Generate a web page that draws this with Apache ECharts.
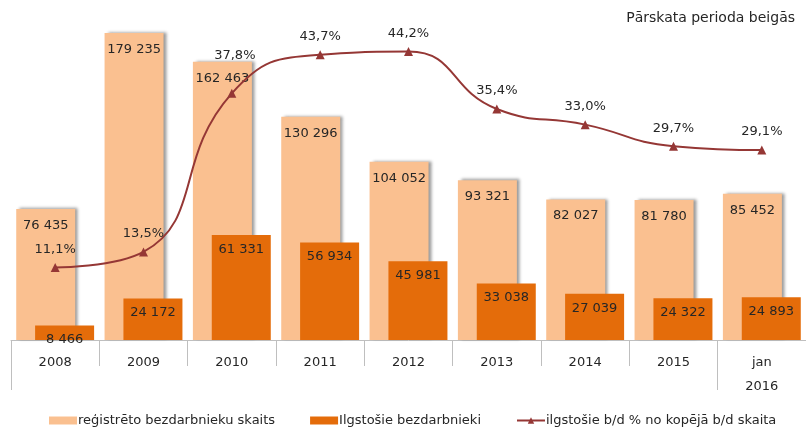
<!DOCTYPE html>
<html>
<head>
<meta charset="utf-8">
<script src="https://cdn.jsdelivr.net/npm/echarts@6/dist/echarts.min.js"></script>
<style>html,body{margin:0;padding:0;background:#fff}#c{width:806px;height:436px}</style>
</head>
<body>
<div id="c"></div>
<script>
var categories = ['2008','2009','2010','2011','2012','2013','2014','2015','jan\n2016'];
var registered = [76435, 179235, 162463, 130296, 104052, 93321, 82027, 81780, 85452];
var longTerm = [8466, 24172, 61331, 56934, 45981, 33038, 27039, 24322, 24893];
var sharePct = [11.1, 13.5, 37.8, 43.7, 44.2, 35.4, 33.0, 29.7, 29.1];
var seriesNames = ['reģistrēto bezdarbnieku skaits', 'Ilgstošie bezdarbnieki', 'ilgstošie b/d % no kopējā b/d skaita'];
var titleText = 'Pārskata perioda beigās';

var FONT = 'DejaVu Sans';
function fmtNum(v){ return String(v).replace(/\B(?=(\d{3})+(?!\d))/g, ' '); }
function fmtPct(v){ return v.toFixed(1).replace('.', ',') + '%'; }

var lineData = sharePct.map(function(v, i){
  var d = {value: v};
  if (i === 2) d.label = {offset: [3, -20]};
  return d;
});

var chart = echarts.init(document.getElementById('c'));
chart.setOption({
  animation: false,
  textStyle: {fontFamily: FONT},
  title: {text: titleText, right: 6, top: 6, textStyle: {fontFamily: FONT, fontSize: 14, fontWeight: 'normal', color: '#262626'}},
  grid: {left: 11, right: -1, top: 0, bottom: 96},
  legend: {
    bottom: 4, left: 44, itemWidth: 28, itemHeight: 8, itemGap: 35,
    textStyle: {fontFamily: FONT, fontSize: 13, color: '#262626', padding: [0,0,0,-4]},
    data: [
      {name: seriesNames[0], icon: 'rect'},
      {name: seriesNames[1], icon: 'rect'},
      {name: seriesNames[2]}
    ]
  },
  xAxis: [{
    type: 'category', data: categories, position: 'bottom',
    axisLine: {show: true, lineStyle: {color: '#BFBFBF'}},
    axisTick: {show: true, length: 26, lineStyle: {color: '#BFBFBF'}},
    axisLabel: {fontFamily: FONT, fontSize: 13, color: '#262626', margin: 11, lineHeight: 24, interval: 0}
  }, {
    type: 'category', data: categories, position: 'bottom',
    axisLine: {show: false},
    axisTick: {show: true, length: 50, lineStyle: {color: '#BFBFBF'}, interval: function(i){ return i === 0 || i === 8; }},
    axisLabel: {show: false}
  }],
  yAxis: [
    {type: 'value', min: 0, max: 198500, show: false, splitLine: {show: false}},
    {type: 'value', min: 0, max: 52.1, show: false, splitLine: {show: false}}
  ],
  series: [{
    name: seriesNames[0], type: 'bar', data: registered, barWidth: 59, barGap: '-68%',
    itemStyle: {color: '#FAC090', shadowColor: 'rgba(0,0,0,0.4)', shadowBlur: 3, shadowOffsetX: 3, shadowOffsetY: -1},
    label: {show: true, position: 'insideTop', distance: 10, fontFamily: FONT, fontSize: 13, color: '#262626', formatter: function(p){ return fmtNum(p.value); }},
    z: 2
  }, {
    name: seriesNames[1], type: 'bar', data: longTerm, barWidth: 59,
    itemStyle: {color: '#E46C0A'},
    label: {show: true, position: 'insideTop', distance: 8, fontFamily: FONT, fontSize: 13, color: '#262626', formatter: function(p){ return fmtNum(p.value); }},
    z: 3
  }, {
    name: seriesNames[2], type: 'line', yAxisIndex: 1, data: lineData, smooth: 0.5,
    symbol: 'triangle', symbolSize: 9,
    lineStyle: {color: '#953735', width: 2},
    itemStyle: {color: '#953735'},
    label: {show: true, position: 'top', distance: 7, fontFamily: FONT, fontSize: 13, color: '#262626', formatter: function(p){ return fmtPct(p.value); }},
    z: 5
  }]
});
</script>
</body>
</html>
